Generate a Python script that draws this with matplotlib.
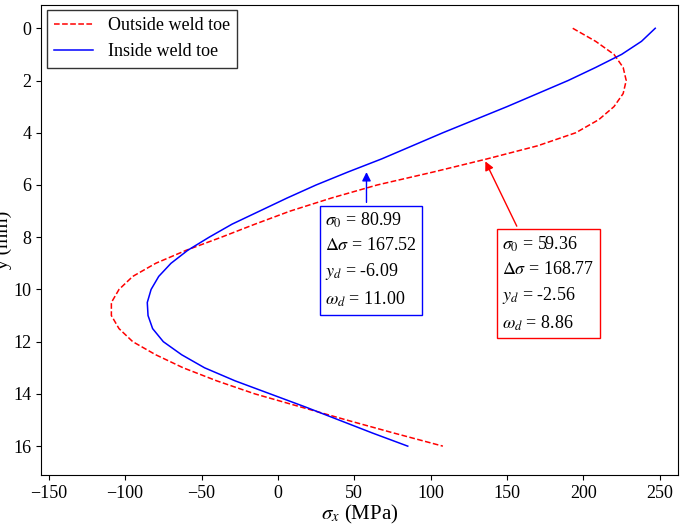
import matplotlib
matplotlib.use("Agg")
import matplotlib.pyplot as plt

y_out = [0, 0.5, 1, 1.5, 2, 2.5, 3, 3.5, 4, 4.5, 5, 5.5, 6, 6.5, 7, 7.5, 8, 8.5, 9, 9.5,
         10, 10.5, 11, 11.5, 12, 12.5, 13, 13.5, 14, 14.5, 15, 15.5, 16]
sx_outside = [193, 208, 220, 226, 228, 226, 220, 210, 195, 170, 137, 102, 65, 35, 8, -15, -37, -60,
              -80, -95, -104, -109, -109, -104, -95, -80, -62, -40, -15, 15, 45, 76, 108]
y_in = y_out
sx_inside = [247, 238, 225, 208, 190, 170, 150, 129, 108, 88, 68, 46, 25, 6, -12, -30, -45, -59,
             -70, -78, -83, -85.5, -85, -82, -75, -63, -48, -28, -5, 18, 40, 62, 85]

plt.rcParams.update({"font.family": "Liberation Serif", "mathtext.fontset": "stix"})
fig = plt.figure(figsize=(6.85, 5.3), dpi=100)
ax = fig.add_axes([0.06, 0.104, 0.93, 0.887])

ax.plot(sx_outside, y_out, "--", color="#ff0000", lw=1.1, label="Outside weld toe")
ax.plot(sx_inside, y_in, "-", color="#0000ff", lw=1.1, label="Inside weld toe")

ax.set_xlim(-155, 262)
ax.set_ylim(17.1, -0.9)
ax.set_xticks(range(-150, 251, 50))
ax.set_yticks(range(0, 17, 2))
ax.tick_params(labelsize=13)
ax.set_xlabel(r"$\sigma_x$ (MPa)", fontsize=15, labelpad=1)
ax.set_ylabel("y (mm)", fontsize=14, labelpad=1)
ax.legend(loc="upper left", fontsize=13, frameon=True, fancybox=False,
          edgecolor="black", handlelength=2.2, borderaxespad=0.3)

blue_txt = "$\\sigma_0$ = 80.99\n$\\Delta\\sigma$ = 167.52\n$y_d$ = -6.09\n$\\omega_d$ = 11.00"
red_txt = "$\\sigma_0$ = 59.36\n$\\Delta\\sigma$ = 168.77\n$y_d$ = -2.56\n$\\omega_d$ = 8.86"
ax.annotate(blue_txt, xy=(58, 5.4), xytext=(31, 7.0), fontsize=13, va="top", ha="left",
            linespacing=1.5,
            bbox=dict(boxstyle="square,pad=0.3", fc="white", ec="#0000ff"),
            arrowprops=dict(arrowstyle="-|>", color="#0000ff", lw=1, relpos=(0.45, 1.0)))
ax.annotate(red_txt, xy=(135, 5.0), xytext=(147, 7.9), fontsize=13, va="top", ha="left",
            linespacing=1.5,
            bbox=dict(boxstyle="square,pad=0.3", fc="white", ec="#ff0000"),
            arrowprops=dict(arrowstyle="-|>", color="#ff0000", lw=1, relpos=(0.2, 1.0)))

fig.savefig("out.png", dpi=100)
